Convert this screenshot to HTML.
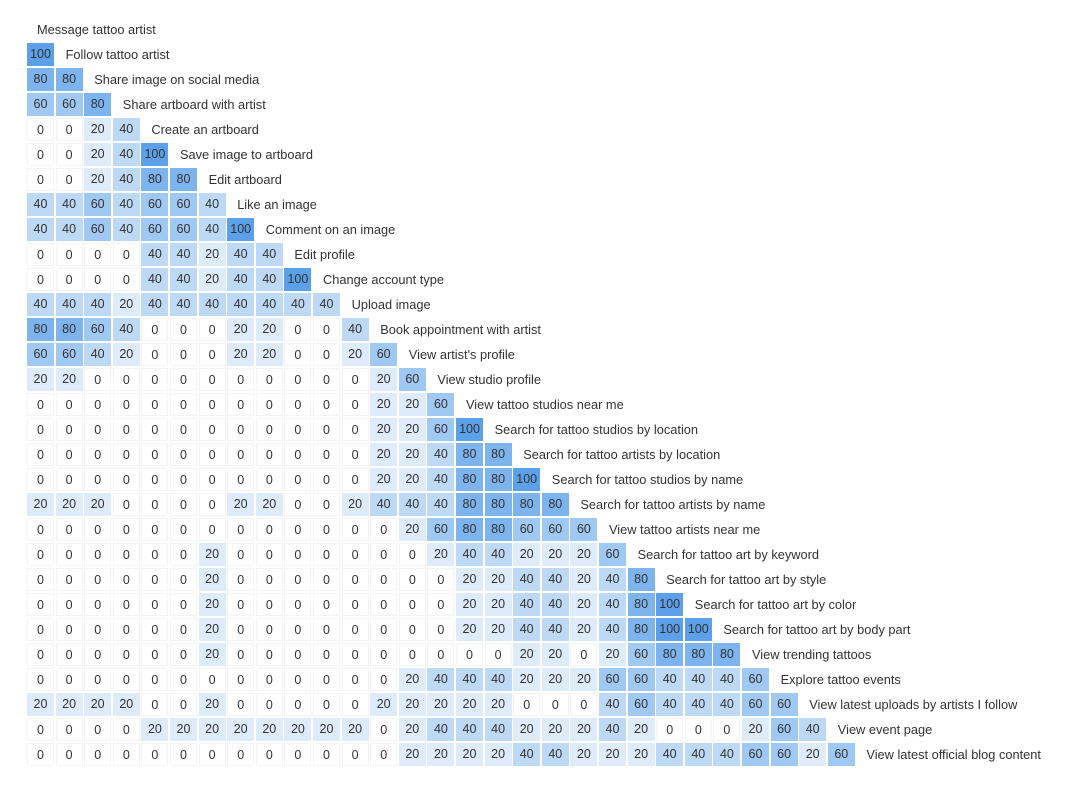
<!DOCTYPE html>
<html><head><meta charset="utf-8">
<style>
body{margin:0;background:#fff;width:1074px;height:787px;overflow:hidden;font-family:"Liberation Sans",sans-serif;}
#chart{position:relative;width:1074px;height:787px;}
.cell{position:absolute;width:27px;height:23px;line-height:23px;text-align:center;font-size:12.5px;color:#333;box-sizing:border-box;}
.lbl{position:absolute;font-size:12.8px;color:#333;line-height:25px;white-space:nowrap;}
</style></head>
<body>
<div id="chart"></div>
<script>
const labels=["Message tattoo artist","Follow tattoo artist","Share image on social media","Share artboard with artist","Create an artboard","Save image to artboard","Edit artboard","Like an image","Comment on an image","Edit profile","Change account type","Upload image","Book appointment with artist","View artist's profile","View studio profile","View tattoo studios near me","Search for tattoo studios by location","Search for tattoo artists by location","Search for tattoo studios by name","Search for tattoo artists by name","View tattoo artists near me","Search for tattoo art by keyword","Search for tattoo art by style","Search for tattoo art by color","Search for tattoo art by body part","View trending tattoos","Explore tattoo events","View latest uploads by artists I follow","View event page","View latest official blog content"];
const values=[
[],
[100],
[80,80],
[60,60,80],
[0,0,20,40],
[0,0,20,40,100],
[0,0,20,40,80,80],
[40,40,60,40,60,60,40],
[40,40,60,40,60,60,40,100],
[0,0,0,0,40,40,20,40,40],
[0,0,0,0,40,40,20,40,40,100],
[40,40,40,20,40,40,40,40,40,40,40],
[80,80,60,40,0,0,0,20,20,0,0,40],
[60,60,40,20,0,0,0,20,20,0,0,20,60],
[20,20,0,0,0,0,0,0,0,0,0,0,20,60],
[0,0,0,0,0,0,0,0,0,0,0,0,20,20,60],
[0,0,0,0,0,0,0,0,0,0,0,0,20,20,60,100],
[0,0,0,0,0,0,0,0,0,0,0,0,20,20,40,80,80],
[0,0,0,0,0,0,0,0,0,0,0,0,20,20,40,80,80,100],
[20,20,20,0,0,0,0,20,20,0,0,20,40,40,40,80,80,80,80],
[0,0,0,0,0,0,0,0,0,0,0,0,0,20,60,80,80,60,60,60],
[0,0,0,0,0,0,20,0,0,0,0,0,0,0,20,40,40,20,20,20,60],
[0,0,0,0,0,0,20,0,0,0,0,0,0,0,0,20,20,40,40,20,40,80],
[0,0,0,0,0,0,20,0,0,0,0,0,0,0,0,20,20,40,40,20,40,80,100],
[0,0,0,0,0,0,20,0,0,0,0,0,0,0,0,20,20,40,40,20,40,80,100,100],
[0,0,0,0,0,0,20,0,0,0,0,0,0,0,0,0,0,20,20,0,20,60,80,80,80],
[0,0,0,0,0,0,0,0,0,0,0,0,0,20,40,40,40,20,20,20,60,60,40,40,40,60],
[20,20,20,20,0,0,20,0,0,0,0,0,20,20,20,20,20,0,0,0,40,60,40,40,40,60,60],
[0,0,0,0,20,20,20,20,20,20,20,20,0,20,40,40,40,20,20,20,40,20,0,0,0,20,60,40],
[0,0,0,0,0,0,0,0,0,0,0,0,0,20,20,20,20,40,40,20,20,20,40,40,40,60,60,20,60]
];
const colors={0:"#ffffff",20:"#deebfb",40:"#bdd9f6",60:"#9fc8f2",80:"#7db4ee",100:"#5ba0e8"};
const x0=27,pitch=28.6,y0=17,rowH=25;
const xs=c=>x0+c*pitch, ys=r=>y0+r*rowH;
const chart=document.getElementById('chart');
labels.forEach((lab,r)=>{
  const row=values[r];
  row.forEach((v,c)=>{
    const d=document.createElement('div');
    d.className='cell';
    
    
    d.style.left=xs(c)+'px';d.style.top=(ys(r)+1)+'px';
    d.style.background=colors[v]||'#fff';
    if(v===0)d.style.border='1px solid #f4f4f4';
    d.textContent=v;
    chart.appendChild(d);
  });
  const l=document.createElement('div');
  l.className='lbl';
  
  
  l.style.left=(xs(row.length)+10)+'px';l.style.top=ys(r)+'px';
  l.textContent=lab;
  chart.appendChild(l);
});
</script>
</body></html>
